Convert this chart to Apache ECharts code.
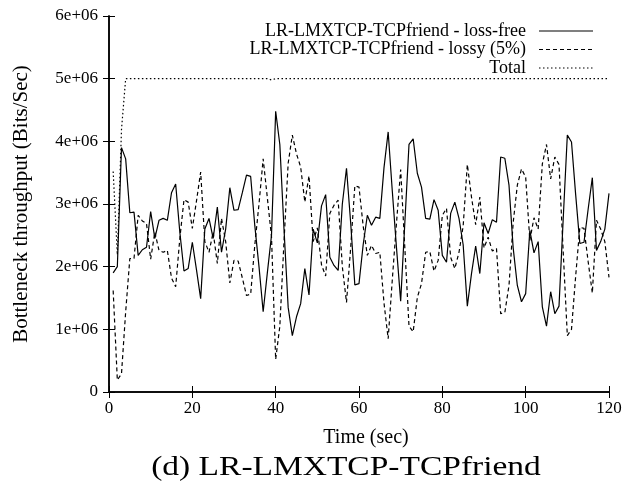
<!DOCTYPE html>
<html>
<head>
<meta charset="utf-8">
<script src="https://cdn.jsdelivr.net/npm/echarts@6/dist/echarts.min.js"></script>
<style>html,body{margin:0;padding:0;background:#fff}#c{width:638px;height:490px}</style>
</head>
<body>
<div id="c"></div>
<script>
// Time (sec)
var times = [1,2,3,4,5,6,7,8,9,10,11,12,13,14,15,16,17,18,19,20,21,22,23,24,25,26,27,28,29,30,31,32,33,34,35,36,37,38,39,40,41,42,43,44,45,46,47,48,49,50,51,52,53,54,55,56,57,58,59,60,61,62,63,64,65,66,67,68,69,70,71,72,73,74,75,76,77,78,79,80,81,82,83,84,85,86,87,88,89,90,91,92,93,94,95,96,97,98,99,100,101,102,103,104,105,106,107,108,109,110,111,112,113,114,115,116,117,118,119,120];
// Throughput in millions of bits/sec
var lossFree = [1.90,2.00,3.90,3.72,2.86,2.87,2.18,2.27,2.31,2.88,2.45,2.74,2.77,2.74,3.18,3.32,2.55,1.93,1.97,2.39,
  1.95,1.49,2.60,2.77,2.45,2.95,2.23,2.60,3.26,2.90,2.91,3.18,3.46,3.44,2.65,2.00,1.28,1.90,2.50,4.48,
  3.95,2.60,1.35,0.90,1.20,1.41,1.97,1.55,2.60,2.38,2.97,3.15,2.15,2.02,1.94,3.00,3.57,2.70,1.71,1.73,
  2.35,2.82,2.66,2.79,2.77,3.58,4.15,3.20,2.30,1.45,2.70,3.95,4.04,3.49,3.27,2.77,2.76,3.07,2.90,2.18,
  2.07,2.85,3.03,2.77,2.35,1.37,1.89,2.33,1.89,2.70,2.53,2.75,2.71,3.75,3.73,3.30,2.30,1.70,1.44,1.57,
  2.58,2.22,2.40,1.36,1.05,1.60,1.25,1.37,2.75,4.10,3.99,3.15,2.37,2.39,2.92,3.42,2.26,2.40,2.60,3.17];
var lossy = [1.62,0.19,0.29,1.28,2.13,2.13,2.82,2.73,2.69,2.12,2.55,2.26,2.23,2.26,1.82,1.68,2.45,3.07,3.03,2.61,
  3.05,3.51,2.40,2.23,2.55,2.05,2.77,2.40,1.74,2.10,2.09,1.82,1.54,1.56,2.35,3.00,3.72,3.10,2.48,0.52,
  1.05,2.40,3.65,4.10,3.80,3.59,3.03,3.45,2.40,2.62,2.03,1.85,2.85,2.98,3.06,2.00,1.43,2.30,3.29,3.27,
  2.65,2.18,2.34,2.21,2.23,1.42,0.85,1.80,2.70,3.55,2.30,1.05,0.96,1.51,1.73,2.23,2.24,1.93,2.10,2.82,
  2.93,2.15,1.97,2.23,2.65,3.63,3.11,2.67,3.11,2.30,2.47,2.25,2.29,1.25,1.27,1.70,2.70,3.30,3.56,3.43,
  2.42,2.78,2.60,3.64,3.95,3.40,3.75,3.63,2.25,0.90,1.00,1.85,2.63,2.61,2.08,1.58,2.74,2.60,2.40,1.83];
var total = [3.52,2.19,4.19,5.00,5.00,5.00,5.00,5.00,5.00,5.00,5.00,5.00,5.00,5.00,5.00,5.00,5.00,5.00,5.00,5.00,
  5.00,5.00,5.00,5.00,5.00,5.00,5.00,5.00,5.00,5.00,5.00,5.00,5.00,5.00,5.00,5.00,5.00,5.00,4.98,5.00,
  5.00,5.00,5.00,5.00,5.00,5.00,5.00,5.00,5.00,5.00,5.00,5.00,5.00,5.00,5.00,5.00,5.00,5.00,5.00,5.00,
  5.00,5.00,5.00,5.00,5.00,5.00,5.00,5.00,5.00,5.00,5.00,5.00,5.00,5.00,5.00,5.00,5.00,5.00,5.00,5.00,
  5.00,5.00,5.00,5.00,5.00,5.00,5.00,5.00,5.00,5.00,5.00,5.00,5.00,5.00,5.00,5.00,5.00,5.00,5.00,5.00,
  5.00,5.00,5.00,5.00,5.00,5.00,5.00,5.00,5.00,5.00,5.00,5.00,5.00,5.00,5.00,5.00,5.00,5.00,5.00,5.00];
var seriesNames = ['LR-LMXTCP-TCPfriend - loss-free','LR-LMXTCP-TCPfriend - lossy (5%)','Total'];
var xTicks = [0,20,40,60,80,100,120];
var yTickLabels = ['0','1e+06','2e+06','3e+06','4e+06','5e+06','6e+06'];
var caption = '(d) LR-LMXTCP-TCPfriend';

function pairs(arr){ return times.map(function(t,i){ return [t, arr[i]*1e6]; }); }

var font = 'Liberation Serif';
var dashes = ['solid', [4,3], [1.5,2.5]];
var chart = echarts.init(document.getElementById('c'), null, {renderer:'canvas'});
var axisLine = {show:true, lineStyle:{color:'#000', width:1.5}};
var tickIn = {show:true, inside:true, length:6, lineStyle:{color:'#000', width:1}};

// legend drawn as text + line samples
var legendGraphics = [];
var rowsY = [31, 49.5, 68];
seriesNames.forEach(function(n, i){
  legendGraphics.push({type:'text', x:526, y:rowsY[i],
    style:{text:n, fontFamily:font, fontSize:18, fill:'#000', textAlign:'right', textVerticalAlign:'middle'}});
  legendGraphics.push({type:'line', shape:{x1:539, y1:rowsY[i], x2:593, y2:rowsY[i]},
    style:{stroke:'#000', lineWidth:1.2, lineDash: i===0 ? null : dashes[i]}});
});
legendGraphics.push({type:'text', x:346, y:468, scaleX:1.24, scaleY:1,
  style:{text:caption, fontFamily:font, fontSize:27, fill:'#000', textAlign:'center', textVerticalAlign:'middle'}});

chart.setOption({
  animation:false,
  backgroundColor:'#fff',
  grid:{left:109, right:29, top:16, bottom:98, containLabel:false},
  xAxis:[{
    type:'value', min:0, max:120, interval:20, position:'bottom',
    name:'Time (sec)', nameLocation:'middle', nameGap:36,
    nameTextStyle:{fontFamily:font, fontSize:20, color:'#000', padding:[0,0,0,14]},
    axisLine:axisLine, axisTick:tickIn, splitLine:{show:false},
    axisLabel:{fontFamily:font, fontSize:17, color:'#000', margin:8,
      formatter:function(v){ return xTicks.indexOf(v)>=0 ? String(v) : ''; }}
  },{
    type:'value', min:0, max:120, interval:20, position:'top',
    axisLine:axisLine, axisTick:tickIn, axisLabel:{show:false}, splitLine:{show:false}
  }],
  yAxis:[{
    type:'value', min:0, max:6e6, interval:1e6, position:'left',
    name:'Bottleneck throughput (Bits/Sec)', nameLocation:'middle', nameGap:77, nameRotate:90,
    nameTextStyle:{fontFamily:font, fontSize:21, color:'#000'},
    axisLine:axisLine, axisTick:tickIn, splitLine:{show:false},
    axisLabel:{fontFamily:font, fontSize:17, color:'#000', margin:11,
      formatter:function(v){ return yTickLabels[Math.round(v/1e6)]; }}
  },{
    type:'value', min:0, max:6e6, interval:1e6, position:'right',
    axisLine:axisLine, axisTick:tickIn, axisLabel:{show:false}, splitLine:{show:false}
  }],
  series:[{
    name:seriesNames[0], type:'line', data:pairs(lossFree), symbol:'none',
    lineStyle:{color:'#000', width:1.2, type:dashes[0]}
  },{
    name:seriesNames[1], type:'line', data:pairs(lossy), symbol:'none',
    lineStyle:{color:'#000', width:1.2, type:dashes[1]}
  },{
    name:seriesNames[2], type:'line', data:pairs(total), symbol:'none',
    lineStyle:{color:'#000', width:1.2, type:dashes[2]}
  }],
  graphic:legendGraphics
});
</script>
</body>
</html>
